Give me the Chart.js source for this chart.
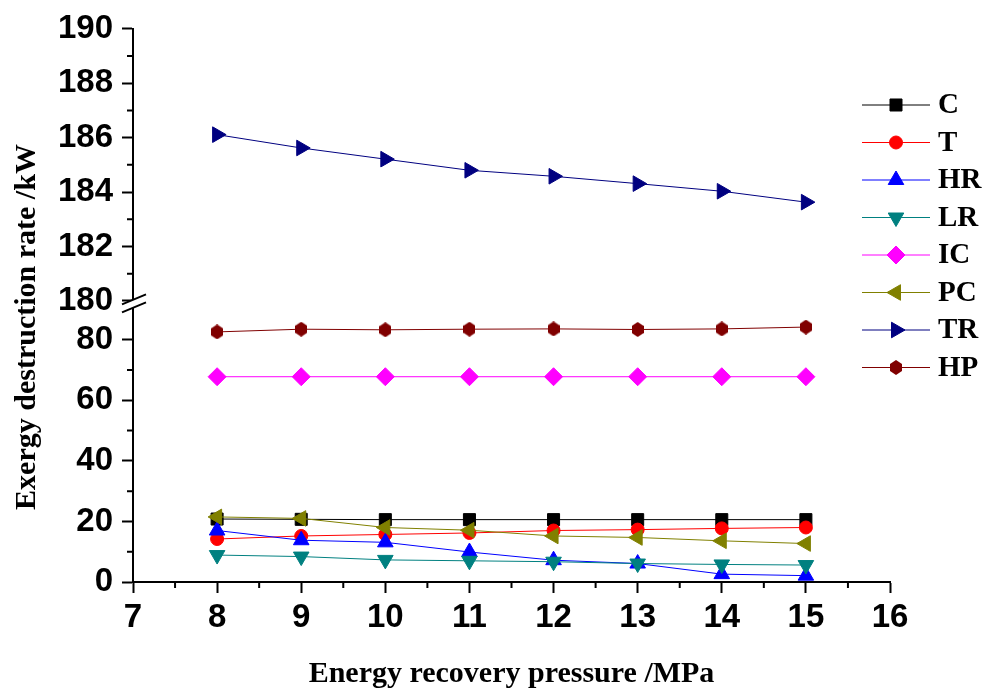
<!DOCTYPE html>
<html>
<head>
<meta charset="utf-8">
<script src="https://cdn.jsdelivr.net/npm/chart.js@4.4.1/dist/chart.umd.min.js"></script>
<style>
  html, body { margin: 0; padding: 0; background: #fff; }
</style>
</head>
<body>
<canvas id="c" width="985" height="695"></canvas>
<script>
// energy recovery pressure, MPa
var pressure = [8, 9, 10, 11, 12, 13, 14, 15];

// exergy destruction rate, kW
var C  = [20.8, 20.7, 20.6, 20.6, 20.6, 20.6, 20.6, 20.6];
var T  = [14.2, 15.2, 15.7, 16.2, 17.0, 17.3, 17.7, 18.0];
var HR = [17.0, 13.8, 13.1, 9.9, 7.2, 6.1, 2.6, 2.1];
var LR = [8.9, 8.4, 7.3, 7.0, 6.7, 6.1, 5.8, 5.6];
var IC = [67.8, 67.8, 67.8, 67.8, 67.8, 67.8, 67.8, 67.8];
var PC = [21.5, 21.0, 18.0, 17.1, 15.2, 14.7, 13.6, 12.7];
var TR = [186.11, 185.62, 185.21, 184.80, 184.58, 184.31, 184.03, 183.63];
var HP = [82.6, 83.5, 83.3, 83.5, 83.6, 83.4, 83.6, 84.2];

// ticks
var xTicks = [7, 8, 9, 10, 11, 12, 13, 14, 15, 16];
var xMinor = [7.5, 8.5, 9.5, 10.5, 11.5, 12.5, 13.5, 14.5, 15.5];
var yLowTicks = [0, 20, 40, 60, 80];
var yLowMinor = [10, 30, 50, 70];
var yHighTicks = [180, 182, 184, 186, 188, 190];
var yHighMinor = [181, 183, 185, 187, 189];

function pts(arr) {
  return pressure.map(function (p, i) { return { x: p, y: arr[i] }; });
}

// hexagon marker (pointy top) as a small canvas
function hexagon(color, w, h) {
  var cv = document.createElement('canvas');
  cv.width = w; cv.height = h;
  var g = cv.getContext('2d');
  g.fillStyle = color;
  g.beginPath();
  g.moveTo(w / 2, 0);
  g.lineTo(w, h * 0.26);
  g.lineTo(w, h * 0.74);
  g.lineTo(w / 2, h);
  g.lineTo(0, h * 0.74);
  g.lineTo(0, h * 0.26);
  g.closePath();
  g.fill();
  return cv;
}

function series(label, data, color, style, radius, rotation, axis, order) {
  return {
    label: label,
    data: pts(data),
    yAxisID: axis,
    borderColor: color,
    backgroundColor: color,
    borderWidth: 1,
    pointStyle: style,
    pointRadius: radius,
    pointHoverRadius: radius,
    pointRotation: rotation,
    pointBorderWidth: 1,
    pointBorderColor: color,
    pointBackgroundColor: color,
    order: order,
    clip: false
  };
}

var datasets = [
  series('C',  C,  '#000000', 'rect', 8.5, 0, 'yLow', 8),
  series('T',  T,  '#ff0000', 'circle', 6.5, 0, 'yLow', 7),
  series('HR', HR, '#0000ff', 'triangle', 9, 0, 'yLow', 6),
  series('LR', LR, '#008080', 'triangle', 9, 180, 'yLow', 5),
  series('IC', IC, '#ff00ff', 'rectRot', 9, 0, 'yLow', 4),
  series('PC', PC, '#808000', 'triangle', 9, -90, 'yLow', 3),
  series('TR', TR, '#000080', 'triangle', 9, 90, 'yHigh', 2),
  series('HP', HP, '#800000', hexagon('#800000', 12, 15), 7, 0, 'yLow', 1)
];

var tickFont = { family: 'Liberation Sans', weight: 'bold', size: 33 };

function fixTicks(list) {
  return function (scale) {
    scale.ticks = list.map(function (v) { return { value: v }; });
  };
}

function yAxis(min, max, list) {
  return {
    type: 'linear',
    position: 'left',
    stack: 'y',
    stackWeight: 1,
    min: min,
    max: max,
    afterBuildTicks: fixTicks(list),
    afterFit: function (scale) { scale.width = 133; },
    border: { display: true, color: '#000', width: 2 },
    grid: { drawOnChartArea: false, drawTicks: true, tickLength: 11, tickWidth: 2, tickColor: '#000' },
    ticks: { autoSkip: false, padding: 9, color: '#000', font: tickFont }
  };
}

var extras = {
  id: 'extras',
  afterDraw: function (chart) {
    var ctx = chart.ctx;
    var sx = chart.scales.x, lo = chart.scales.yLow, hi = chart.scales.yHigh;
    var left = chart.chartArea.left, bottom = chart.chartArea.bottom;

    ctx.save();
    ctx.strokeStyle = '#000';
    ctx.lineWidth = 2;
    // minor ticks
    ctx.beginPath();
    xMinor.forEach(function (v) {
      var x = sx.getPixelForValue(v);
      ctx.moveTo(x, bottom); ctx.lineTo(x, bottom + 6);
    });
    yLowMinor.forEach(function (v) {
      var y = lo.getPixelForValue(v);
      ctx.moveTo(left, y); ctx.lineTo(left - 6, y);
    });
    yHighMinor.forEach(function (v) {
      var y = hi.getPixelForValue(v);
      ctx.moveTo(left, y); ctx.lineTo(left - 6, y);
    });
    ctx.stroke();

    // axis break marks
    var by = (hi.bottom + lo.top) / 2 + 1;
    ctx.fillStyle = '#fff';
    ctx.beginPath();
    ctx.moveTo(left - 11, by - 2);
    ctx.lineTo(left + 13, by - 12);
    ctx.lineTo(left + 13, by - 4);
    ctx.lineTo(left - 11, by + 6);
    ctx.closePath();
    ctx.fill();
    ctx.beginPath();
    ctx.moveTo(left - 11, by - 2); ctx.lineTo(left + 13, by - 12);
    ctx.moveTo(left - 11, by + 6); ctx.lineTo(left + 13, by - 4);
    ctx.stroke();

    // y axis title
    ctx.fillStyle = '#000';
    ctx.font = 'bold 30px "Liberation Serif"';
    ctx.textAlign = 'center';
    ctx.textBaseline = 'middle';
    ctx.translate(27, 327);
    ctx.rotate(-Math.PI / 2);
    ctx.fillText('Exergy destruction rate /kW', 0, 0);
    ctx.restore();

    // legend
    ctx.save();
    ctx.font = 'bold 29px "Liberation Serif"';
    ctx.textAlign = 'left';
    ctx.textBaseline = 'middle';
    chart.data.datasets.forEach(function (ds, i) {
      var y = 105 + i * 37.5;
      ctx.strokeStyle = ds.borderColor;
      ctx.lineWidth = 1;
      ctx.beginPath();
      ctx.moveTo(862, y); ctx.lineTo(930, y);
      ctx.stroke();
      ctx.fillStyle = ds.backgroundColor;
      Chart.helpers.drawPoint(ctx, {
        pointStyle: ds.pointStyle,
        radius: ds.pointRadius,
        rotation: ds.pointRotation,
        borderWidth: 1
      }, 896, y);
      ctx.fillStyle = '#000';
      ctx.fillText(ds.label, 938, y + 1);
    });
    ctx.restore();
  }
};

new Chart(document.getElementById('c'), {
  type: 'line',
  data: { datasets: datasets },
  options: {
    responsive: false,
    animation: false,
    layout: { padding: { left: 0, right: 95, top: 27, bottom: 0 } },
    plugins: { legend: { display: false }, tooltip: { enabled: false } },
    scales: {
      x: {
        type: 'linear',
        min: 7,
        max: 16,
        afterBuildTicks: fixTicks(xTicks),
        afterFit: function (scale) { scale.height = 113; },
        border: { display: true, color: '#000', width: 2 },
        grid: { drawOnChartArea: false, drawTicks: true, tickLength: 11, tickWidth: 2, tickColor: '#000' },
        ticks: { autoSkip: false, maxRotation: 0, padding: 5, color: '#000', font: tickFont },
        title: {
          display: true,
          text: 'Energy recovery pressure /MPa',
          color: '#000',
          font: { family: 'Liberation Serif', weight: 'bold', size: 30 },
          padding: { top: 0, bottom: 3 }
        }
      },
      yLow: yAxis(0, 91.36, yLowTicks),
      yHigh: yAxis(179.835, 190, yHighTicks)
    }
  },
  plugins: [extras]
});
</script>
</body>
</html>
